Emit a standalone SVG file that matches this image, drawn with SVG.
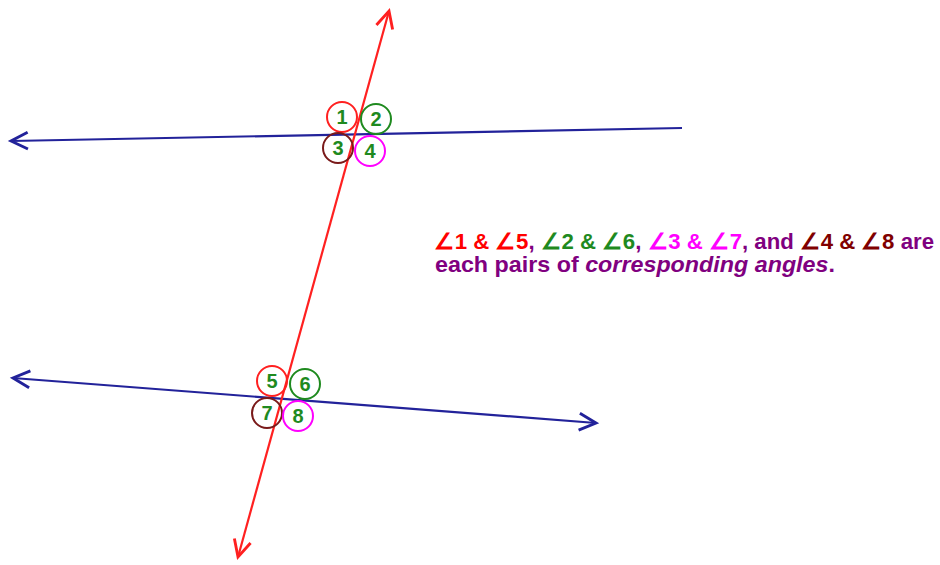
<svg xmlns="http://www.w3.org/2000/svg" width="940" height="565" viewBox="0 0 940 565">
<style>
.blue{stroke:#22229a;stroke-width:2.2;fill:none}
.red{stroke:#ff2020;stroke-width:2.2;fill:none}
.c{fill:none;stroke-width:2}
.num{font-family:"Liberation Sans",Arial,sans-serif;font-weight:bold;font-size:20px;fill:#1f8a1f;text-anchor:middle}
.t{font-family:"Liberation Sans",Arial,sans-serif;font-weight:bold;font-size:21.5px}
</style>
<defs>
<marker id="ab" markerUnits="userSpaceOnUse" markerWidth="24" markerHeight="24" refX="15" refY="8" orient="auto-start-reverse" viewBox="0 0 20 16">
<path d="M1,1 L15,8 L1,15" fill="none" stroke="#22229a" stroke-width="2.4"/>
</marker>
<marker id="ar" markerUnits="userSpaceOnUse" markerWidth="24" markerHeight="24" refX="15" refY="8" orient="auto-start-reverse" viewBox="0 0 20 16">
<path d="M1,1 L15,8 L1,15" fill="none" stroke="#ff2020" stroke-width="2.4"/>
</marker>
</defs>
<rect width="940" height="565" fill="#fff"/>
<g id="connectors">
<line class="blue" x1="682" y1="128" x2="11" y2="141" marker-end="url(#ab)"/>
<line class="blue" x1="13" y1="378" x2="596" y2="423" marker-start="url(#ab)" marker-end="url(#ab)"/>
<line class="red" x1="389" y1="11" x2="238" y2="557" marker-start="url(#ar)" marker-end="url(#ar)"/>
</g>
<g id="angle1"><circle class="c" cx="342" cy="117" r="15" stroke="#ff2020"/><text class="num" x="342" y="124">1</text></g>
<g id="angle2"><circle class="c" cx="376" cy="119" r="15" stroke="#1f8a1f"/><text class="num" x="376" y="126">2</text></g>
<g id="angle3"><circle class="c" cx="338" cy="148" r="15" stroke="#7a1a1a"/><text class="num" x="338" y="155">3</text></g>
<g id="angle4"><circle class="c" cx="370" cy="151" r="15" stroke="#ff00ff"/><text class="num" x="370" y="158">4</text></g>
<g id="angle5"><circle class="c" cx="272" cy="381" r="15" stroke="#ff2020"/><text class="num" x="272" y="388">5</text></g>
<g id="angle6"><circle class="c" cx="305" cy="384" r="15" stroke="#1f8a1f"/><text class="num" x="305" y="391">6</text></g>
<g id="angle7"><circle class="c" cx="267" cy="413" r="15" stroke="#7a1a1a"/><text class="num" x="267" y="420">7</text></g>
<g id="angle8"><circle class="c" cx="298" cy="416" r="15" stroke="#ff00ff"/><text class="num" x="298" y="423">8</text></g>
<g id="caption">
<text class="t" x="434" y="249" textLength="500" lengthAdjust="spacingAndGlyphs"><tspan fill="#ff0000">∠1 &amp; ∠5</tspan><tspan fill="#800080">, </tspan><tspan fill="#1f8a1f">∠2 &amp; ∠6</tspan><tspan fill="#800080">, </tspan><tspan fill="#ff00ff">∠3 &amp; ∠7</tspan><tspan fill="#800080">, and </tspan><tspan fill="#800000">∠4 &amp; ∠8</tspan><tspan fill="#800080"> are</tspan></text>
<text class="t" x="435" y="272" fill="#800080" textLength="400" lengthAdjust="spacingAndGlyphs">each pairs of <tspan font-style="italic">corresponding angles</tspan>.</text>
</g>
</svg>
